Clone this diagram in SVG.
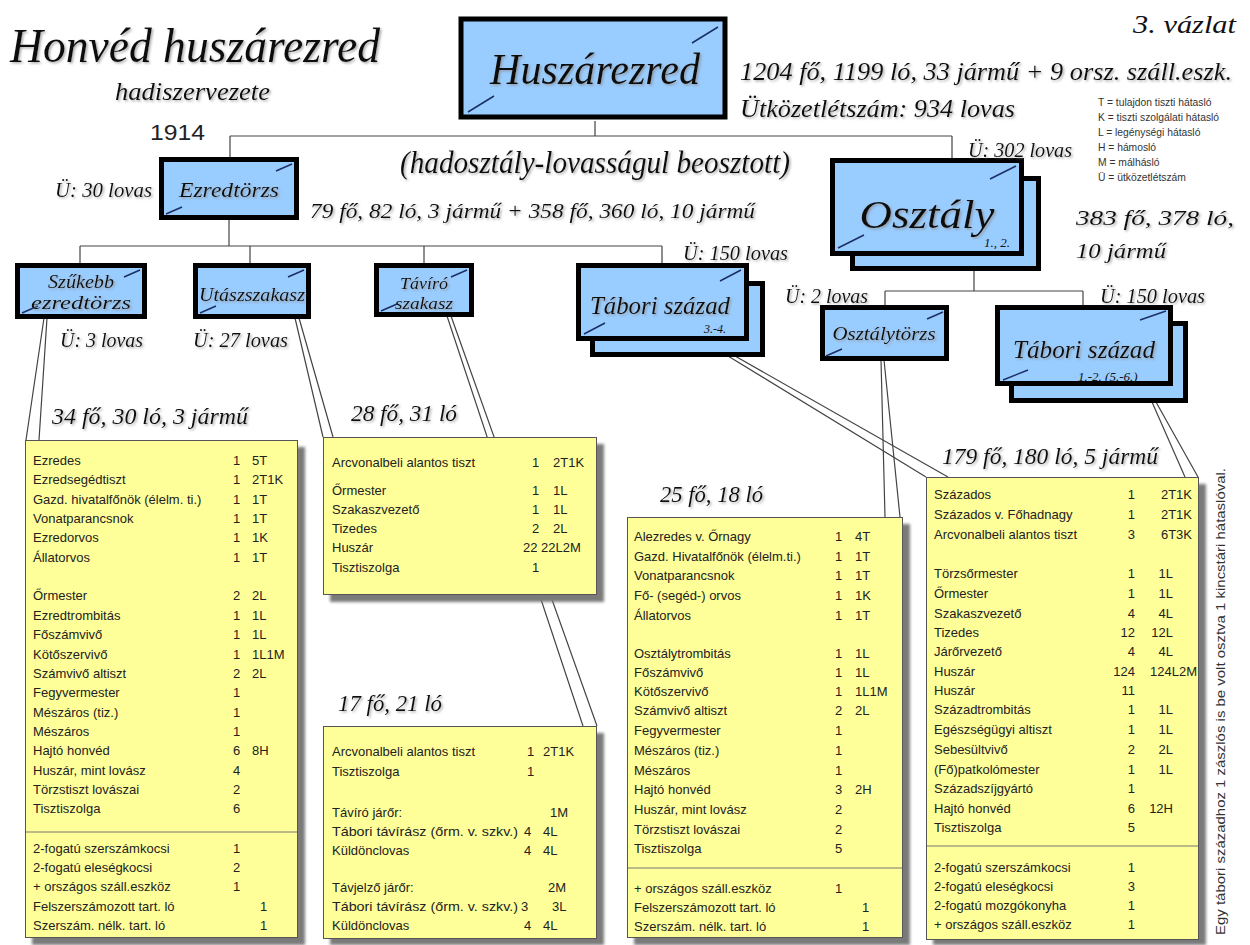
<svg xmlns="http://www.w3.org/2000/svg" width="1250" height="945" viewBox="0 0 1250 945">
<defs>
<filter id="ts" x="-5%" y="-20%" width="110%" height="140%"><feDropShadow dx="1.5" dy="1.5" stdDeviation="0.8" flood-color="#8a8a8a" flood-opacity="0.7"/></filter>
<filter id="bs" x="-5%" y="-5%" width="115%" height="115%"><feGaussianBlur stdDeviation="1.5"/></filter>
</defs>
<style>
.n{fill:#99CCFF;stroke:#000;stroke-width:5}
.gl{stroke:#1c2f63;stroke-width:1.5;fill:none}
.it{font-family:"Liberation Serif","DejaVu Serif",serif;font-style:italic;fill:#111}
.sh{filter:url(#ts)}
.yb{fill:#FFFF99;stroke:#555;stroke-width:1}
.ys{fill:#7a7a7a;filter:url(#bs)}
.t{font-family:"Liberation Sans",Arial,sans-serif;font-size:13px;fill:#222}
.c{stroke:#444;stroke-width:1.2;fill:none}
.sep{stroke:#777;stroke-width:1}
.lg{font-family:"Liberation Sans",Arial,sans-serif;font-size:10.3px;fill:#333}
</style>
<rect width="1250" height="945" fill="#fff"/>

<!-- Title texts -->
<g id="title">
<text class="it sh" x="10" y="62" font-size="48" textLength="370" lengthAdjust="spacingAndGlyphs">Honvéd huszárezred</text>
<text class="it sh" x="115" y="100" font-size="26" textLength="155" lengthAdjust="spacingAndGlyphs">hadiszervezete</text>
<text x="150" y="140" font-family="Liberation Sans,Arial,sans-serif" font-size="22" fill="#222" textLength="55" lengthAdjust="spacingAndGlyphs">1914</text>
<text class="it" x="1133" y="33" font-size="26" textLength="103" lengthAdjust="spacingAndGlyphs">3. vázlat</text>
<text class="it sh" x="740" y="80" font-size="26" textLength="492" lengthAdjust="spacingAndGlyphs">1204 fő, 1199 ló, 33 jármű + 9 orsz. száll.eszk.</text>
<text class="it sh" x="740" y="117" font-size="26" textLength="275" lengthAdjust="spacingAndGlyphs">Ütközetlétszám: 934 lovas</text>
<text class="it sh" x="400" y="173" font-size="32" textLength="390" lengthAdjust="spacingAndGlyphs">(hadosztály-lovasságul beosztott)</text>
</g>

<g id="legend">
<text class="lg" x="1098" y="106">T = tulajdon tiszti hátasló</text>
<text class="lg" x="1098" y="121">K = tiszti szolgálati hátasló</text>
<text class="lg" x="1098" y="136">L = legénységi hátasló</text>
<text class="lg" x="1098" y="151">H = hámosló</text>
<text class="lg" x="1098" y="166">M = málhásló</text>
<text class="lg" x="1098" y="181">Ü = ütközetlétszám</text>
</g>

<!-- Connectors -->
<g id="connectors">
<path class="c" d="M595,121V136M230,136H952M230,136V158M952,136V159"/>
<path class="c" d="M229,220V246M80,246H662M80,246V264M250,246V264M424,246V264M662,246V264"/>
<path class="c" d="M974,271V291M885,291H1083M885,291V306M1083,291V306"/>
<path class="c" d="M44,318L26,440M47,318L39,440"/>
<path class="c" d="M295,318L323,437M299,318L333,437"/>
<path class="c" d="M447,316L583,726M451,316L597,726"/>
<path class="c" d="M728,356L926,477M735,356L948,477"/>
<path class="c" d="M881,360L885,517M884,360L900,517"/>
<path class="c" d="M1152,402L1185,477M1156,402L1198,477"/>
</g>

<!-- Nodes -->
<g id="huszarezred">
<rect class="n" x="461" y="19" width="264" height="98" stroke-width="8"/>
<path class="gl" d="M692,43L718,27M468,112L494,96"/>
<text class="it sh" x="595" y="84" font-size="44" text-anchor="middle" textLength="210" lengthAdjust="spacingAndGlyphs">Huszárezred</text>
</g>

<g id="ezredtorzs">
<rect class="n" x="161.5" y="159.5" width="135" height="58"/>
<path class="gl" d="M276,171L292,164M166,214L182,207"/>
<text class="it sh" x="229" y="197" font-size="22" text-anchor="middle" textLength="100" lengthAdjust="spacingAndGlyphs">Ezredtörzs</text>
<text class="it sh" x="55" y="197" font-size="20" textLength="97" lengthAdjust="spacingAndGlyphs">Ü: 30 lovas</text>
<text class="it sh" x="310" y="218" font-size="22" textLength="445" lengthAdjust="spacingAndGlyphs">79 fő, 82 ló, 3 jármű + 358 fő, 360 ló, 10 jármű</text>
</g>

<g id="szukebb">
<rect class="n" x="17.5" y="265.5" width="127" height="51"/>
<path class="gl" d="M124,277L140,270M22,313L38,306"/>
<text class="it sh" x="81" y="288" font-size="18" text-anchor="middle" textLength="66" lengthAdjust="spacingAndGlyphs">Szűkebb</text>
<text class="it sh" x="81" y="309" font-size="18" text-anchor="middle" textLength="100" lengthAdjust="spacingAndGlyphs">ezredtörzs</text>
<text class="it sh" x="60" y="347" font-size="20" textLength="83" lengthAdjust="spacingAndGlyphs">Ü: 3 lovas</text>
</g>

<g id="utasz">
<rect class="n" x="195.5" y="265.5" width="113" height="51"/>
<path class="gl" d="M288,277L304,270M200,313L216,306"/>
<text class="it sh" x="252" y="301" font-size="18" text-anchor="middle" textLength="106" lengthAdjust="spacingAndGlyphs">Utászszakasz</text>
<text class="it sh" x="193" y="347" font-size="20" textLength="95" lengthAdjust="spacingAndGlyphs">Ü: 27 lovas</text>
</g>

<g id="taviro">
<rect class="n" x="376.5" y="265.5" width="95" height="49"/>
<path class="gl" d="M451,277L467,270M381,311L397,304"/>
<text class="it sh" x="424" y="289" font-size="17" text-anchor="middle" textLength="48" lengthAdjust="spacingAndGlyphs">Távíró</text>
<text class="it sh" x="424" y="309" font-size="17" text-anchor="middle" textLength="58" lengthAdjust="spacingAndGlyphs">szakasz</text>
</g>

<g id="tabori34">
<rect class="n" x="592.5" y="283.5" width="170" height="71"/>
<rect class="n" x="578.5" y="265.5" width="168" height="73"/>
<path class="gl" d="M720,281L741,270M584,334L605,323"/>
<text class="it sh" x="660" y="314" font-size="25" text-anchor="middle" textLength="140" lengthAdjust="spacingAndGlyphs">Tábori század</text>
<text class="it" x="704" y="333" font-size="12">3.-4.</text>
<text class="it sh" x="683" y="260" font-size="20" textLength="105" lengthAdjust="spacingAndGlyphs">Ü: 150 lovas</text>
</g>

<g id="osztaly">
<rect class="n" x="852.5" y="178.5" width="186" height="90"/>
<rect class="n" x="832.5" y="160.5" width="189" height="93"/>
<path class="gl" d="M990,179L1016,166M838,248L864,235"/>
<text class="it sh" x="927" y="228" font-size="40" text-anchor="middle" textLength="135" lengthAdjust="spacingAndGlyphs">Osztály</text>
<text class="it" x="984" y="247" font-size="13">1., 2.</text>
<text class="it sh" x="968" y="157" font-size="20" textLength="104" lengthAdjust="spacingAndGlyphs">Ü: 302 lovas</text>
<text class="it sh" x="1076" y="225" font-size="22" textLength="158" lengthAdjust="spacingAndGlyphs">383 fő, 378 ló,</text>
<text class="it sh" x="1076" y="258" font-size="22" textLength="90" lengthAdjust="spacingAndGlyphs">10 jármű</text>
</g>

<g id="osztalytorzs">
<rect class="n" x="822.5" y="307.5" width="124" height="51"/>
<path class="gl" d="M927,319L943,312M826,356L842,349"/>
<text class="it sh" x="884" y="340" font-size="19" text-anchor="middle" textLength="103" lengthAdjust="spacingAndGlyphs">Osztálytörzs</text>
<text class="it sh" x="785" y="303" font-size="20" textLength="83" lengthAdjust="spacingAndGlyphs">Ü: 2 lovas</text>
</g>

<g id="tabori12">
<rect class="n" x="1011.5" y="323.5" width="174" height="77"/>
<rect class="n" x="997.5" y="307.5" width="173" height="76"/>
<path class="gl" d="M1140,320L1166,311M1003,380L1028,370"/>
<text class="it sh" x="1084" y="358" font-size="25" text-anchor="middle" textLength="142" lengthAdjust="spacingAndGlyphs">Tábori század</text>
<text class="it" x="1078" y="381" font-size="13">1.-2. (5.-6.)</text>
<text class="it sh" x="1100" y="303" font-size="20" textLength="105" lengthAdjust="spacingAndGlyphs">Ü: 150 lovas</text>
</g>

<!-- Box 1 -->
<g id="box-szukebb">
<text class="it sh" x="52" y="424" font-size="24" textLength="196" lengthAdjust="spacingAndGlyphs">34 fő, 30 ló, 3 jármű</text>
<rect class="ys" x="32" y="447" width="273" height="498"/>
<rect class="yb" x="25.5" y="440.5" width="272" height="497"/>
<line class="sep" x1="26" y1="832" x2="297" y2="832"/>
<text class="t" y="465"><tspan x="33">Ezredes</tspan><tspan x="233">1</tspan><tspan x="252">5T</tspan></text>
<text class="t" y="484"><tspan x="33">Ezredsegédtiszt</tspan><tspan x="233">1</tspan><tspan x="252">2T1K</tspan></text>
<text class="t" y="504"><tspan x="33">Gazd. hivatalfőnök (élelm. ti.)</tspan><tspan x="233">1</tspan><tspan x="252">1T</tspan></text>
<text class="t" y="523"><tspan x="33">Vonatparancsnok</tspan><tspan x="233">1</tspan><tspan x="252">1T</tspan></text>
<text class="t" y="542"><tspan x="33">Ezredorvos</tspan><tspan x="233">1</tspan><tspan x="252">1K</tspan></text>
<text class="t" y="562"><tspan x="33">Állatorvos</tspan><tspan x="233">1</tspan><tspan x="252">1T</tspan></text>
<text class="t" y="600"><tspan x="33">Őrmester</tspan><tspan x="233">2</tspan><tspan x="252">2L</tspan></text>
<text class="t" y="620"><tspan x="33">Ezredtrombitás</tspan><tspan x="233">1</tspan><tspan x="252">1L</tspan></text>
<text class="t" y="639"><tspan x="33">Főszámvivő</tspan><tspan x="233">1</tspan><tspan x="252">1L</tspan></text>
<text class="t" y="659"><tspan x="33">Kötőszervivő</tspan><tspan x="233">1</tspan><tspan x="252">1L1M</tspan></text>
<text class="t" y="678"><tspan x="33">Számvivő altiszt</tspan><tspan x="233">2</tspan><tspan x="252">2L</tspan></text>
<text class="t" y="697"><tspan x="33">Fegyvermester</tspan><tspan x="233">1</tspan></text>
<text class="t" y="717"><tspan x="33">Mészáros (tiz.)</tspan><tspan x="233">1</tspan></text>
<text class="t" y="736"><tspan x="33">Mészáros</tspan><tspan x="233">1</tspan></text>
<text class="t" y="755"><tspan x="33">Hajtó honvéd</tspan><tspan x="233">6</tspan><tspan x="252">8H</tspan></text>
<text class="t" y="775"><tspan x="33">Huszár, mint lovász</tspan><tspan x="233">4</tspan></text>
<text class="t" y="794"><tspan x="33">Törzstiszt lovászai</tspan><tspan x="233">2</tspan></text>
<text class="t" y="813"><tspan x="33">Tisztiszolga</tspan><tspan x="233">6</tspan></text>
<text class="t" y="853"><tspan x="33">2-fogatú szerszámkocsi</tspan><tspan x="233">1</tspan></text>
<text class="t" y="872"><tspan x="33">2-fogatú eleségkocsi</tspan><tspan x="233">2</tspan></text>
<text class="t" y="891"><tspan x="33">+ országos száll.eszköz</tspan><tspan x="233">1</tspan></text>
<text class="t" y="911"><tspan x="33">Felszerszámozott tart. ló</tspan><tspan x="260">1</tspan></text>
<text class="t" y="930"><tspan x="33">Szerszám. nélk. tart. ló</tspan><tspan x="260">1</tspan></text>
</g>

<!-- Box 2 -->
<g id="box-utasz">
<text class="it sh" x="351" y="421" font-size="24" textLength="106" lengthAdjust="spacingAndGlyphs">28 fő, 31 ló</text>
<rect class="ys" x="330" y="444" width="274" height="158"/>
<rect class="yb" x="323.5" y="437.5" width="273" height="157"/>
<text class="t" y="467"><tspan x="332">Arcvonalbeli alantos tiszt</tspan><tspan x="532">1</tspan><tspan x="553">2T1K</tspan></text>
<text class="t" y="495"><tspan x="332">Őrmester</tspan><tspan x="532">1</tspan><tspan x="553">1L</tspan></text>
<text class="t" y="514"><tspan x="332">Szakaszvezető</tspan><tspan x="532">1</tspan><tspan x="553">1L</tspan></text>
<text class="t" y="533"><tspan x="332">Tizedes</tspan><tspan x="532">2</tspan><tspan x="553">2L</tspan></text>
<text class="t" y="552"><tspan x="332">Huszár</tspan><tspan x="523">22</tspan><tspan x="541">22L2M</tspan></text>
<text class="t" y="572"><tspan x="332">Tisztiszolga</tspan><tspan x="532">1</tspan></text>
</g>

<!-- Box 3 -->
<g id="box-taviro">
<text class="it sh" x="338" y="711" font-size="24" textLength="104" lengthAdjust="spacingAndGlyphs">17 fő, 21 ló</text>
<rect class="ys" x="330" y="733" width="274" height="212"/>
<rect class="yb" x="323.5" y="726.5" width="273" height="212"/>
<text class="t" y="756"><tspan x="332">Arcvonalbeli alantos tiszt</tspan><tspan x="527">1</tspan><tspan x="543">2T1K</tspan></text>
<text class="t" y="776"><tspan x="332">Tisztiszolga</tspan><tspan x="527">1</tspan></text>
<text class="t" y="817"><tspan x="332">Távíró járőr:</tspan><tspan x="550">1M</tspan></text>
<text class="t" y="836"><tspan x="332" textLength="186" lengthAdjust="spacingAndGlyphs">Tábori távírász (őrm. v. szkv.)</tspan><tspan x="524">4</tspan><tspan x="543">4L</tspan></text>
<text class="t" y="855"><tspan x="332">Küldönclovas</tspan><tspan x="524">4</tspan><tspan x="543">4L</tspan></text>
<text class="t" y="892"><tspan x="332">Távjelző járőr:</tspan><tspan x="548">2M</tspan></text>
<text class="t" y="911"><tspan x="332" textLength="186" lengthAdjust="spacingAndGlyphs">Tábori távírász (őrm. v. szkv.)</tspan><tspan x="521">3</tspan><tspan x="552">3L</tspan></text>
<text class="t" y="930"><tspan x="332">Küldönclovas</tspan><tspan x="524">4</tspan><tspan x="543">4L</tspan></text>
</g>

<!-- Box 4 -->
<g id="box-osztalytorzs">
<text class="it sh" x="660" y="502" font-size="24" textLength="103" lengthAdjust="spacingAndGlyphs">25 fő, 18 ló</text>
<rect class="ys" x="634" y="524" width="276" height="421"/>
<rect class="yb" x="627.5" y="517.5" width="275" height="420"/>
<line class="sep" x1="628" y1="868" x2="902" y2="868"/>
<text class="t" y="541"><tspan x="634">Alezredes v. Őrnagy</tspan><tspan x="835">1</tspan><tspan x="855">4T</tspan></text>
<text class="t" y="561"><tspan x="634">Gazd. Hivatalfőnök (élelm.ti.)</tspan><tspan x="835">1</tspan><tspan x="855">1T</tspan></text>
<text class="t" y="580"><tspan x="634">Vonatparancsnok</tspan><tspan x="835">1</tspan><tspan x="855">1T</tspan></text>
<text class="t" y="600"><tspan x="634">Fő- (segéd-) orvos</tspan><tspan x="835">1</tspan><tspan x="855">1K</tspan></text>
<text class="t" y="620"><tspan x="634">Állatorvos</tspan><tspan x="835">1</tspan><tspan x="855">1T</tspan></text>
<text class="t" y="658"><tspan x="634">Osztálytrombitás</tspan><tspan x="835">1</tspan><tspan x="855">1L</tspan></text>
<text class="t" y="677"><tspan x="634">Főszámvivő</tspan><tspan x="835">1</tspan><tspan x="855">1L</tspan></text>
<text class="t" y="696"><tspan x="634">Kötőszervivő</tspan><tspan x="835">1</tspan><tspan x="855">1L1M</tspan></text>
<text class="t" y="715"><tspan x="634">Számvivő altiszt</tspan><tspan x="835">2</tspan><tspan x="855">2L</tspan></text>
<text class="t" y="735"><tspan x="634">Fegyvermester</tspan><tspan x="835">1</tspan></text>
<text class="t" y="755"><tspan x="634">Mészáros (tiz.)</tspan><tspan x="835">1</tspan></text>
<text class="t" y="775"><tspan x="634">Mészáros</tspan><tspan x="835">1</tspan></text>
<text class="t" y="794"><tspan x="634">Hajtó honvéd</tspan><tspan x="835">3</tspan><tspan x="855">2H</tspan></text>
<text class="t" y="814"><tspan x="634">Huszár, mint lovász</tspan><tspan x="835">2</tspan></text>
<text class="t" y="834"><tspan x="634">Törzstiszt lovászai</tspan><tspan x="835">2</tspan></text>
<text class="t" y="853"><tspan x="634">Tisztiszolga</tspan><tspan x="835">5</tspan></text>
<text class="t" y="893"><tspan x="634">+ országos száll.eszköz</tspan><tspan x="835">1</tspan></text>
<text class="t" y="912"><tspan x="634">Felszerszámozott tart. ló</tspan><tspan x="862">1</tspan></text>
<text class="t" y="931"><tspan x="634">Szerszám. nélk. tart. ló</tspan><tspan x="862">1</tspan></text>
</g>

<!-- Box 5 -->
<g id="box-tabori">
<text class="it sh" x="942" y="464" font-size="24" textLength="216" lengthAdjust="spacingAndGlyphs">179 fő, 180 ló, 5 jármű</text>
<rect class="ys" x="933" y="484" width="273" height="461"/>
<rect class="yb" x="926.5" y="477.5" width="272" height="462"/>
<line class="sep" x1="927" y1="846" x2="1198" y2="846"/>
<g class="t">
<text y="499"><tspan x="934">Százados</tspan></text><text x="1135" y="499" text-anchor="end">1</text><text x="1192" y="499" text-anchor="end">2T1K</text>
<text y="519"><tspan x="934">Százados v. Főhadnagy</tspan></text><text x="1135" y="519" text-anchor="end">1</text><text x="1192" y="519" text-anchor="end">2T1K</text>
<text y="539"><tspan x="934">Arcvonalbeli alantos tiszt</tspan></text><text x="1135" y="539" text-anchor="end">3</text><text x="1192" y="539" text-anchor="end">6T3K</text>
<text y="578"><tspan x="934">Törzsőrmester</tspan></text><text x="1135" y="578" text-anchor="end">1</text><text x="1173" y="578" text-anchor="end">1L</text>
<text y="598"><tspan x="934">Őrmester</tspan></text><text x="1135" y="598" text-anchor="end">1</text><text x="1173" y="598" text-anchor="end">1L</text>
<text y="618"><tspan x="934">Szakaszvezető</tspan></text><text x="1135" y="618" text-anchor="end">4</text><text x="1173" y="618" text-anchor="end">4L</text>
<text y="637"><tspan x="934">Tizedes</tspan></text><text x="1135" y="637" text-anchor="end">12</text><text x="1173" y="637" text-anchor="end">12L</text>
<text y="656"><tspan x="934">Járőrvezető</tspan></text><text x="1135" y="656" text-anchor="end">4</text><text x="1173" y="656" text-anchor="end">4L</text>
<text y="676"><tspan x="934">Huszár</tspan></text><text x="1135" y="676" text-anchor="end">124</text><text x="1197" y="676" text-anchor="end">124L2M</text>
<text y="695"><tspan x="934">Huszár</tspan></text><text x="1135" y="695" text-anchor="end">11</text>
<text y="714"><tspan x="934">Századtrombitás</tspan></text><text x="1135" y="714" text-anchor="end">1</text><text x="1173" y="714" text-anchor="end">1L</text>
<text y="734"><tspan x="934">Egészségügyi altiszt</tspan></text><text x="1135" y="734" text-anchor="end">1</text><text x="1173" y="734" text-anchor="end">1L</text>
<text y="754"><tspan x="934">Sebesültvivő</tspan></text><text x="1135" y="754" text-anchor="end">2</text><text x="1173" y="754" text-anchor="end">2L</text>
<text y="774"><tspan x="934">(Fő)patkolómester</tspan></text><text x="1135" y="774" text-anchor="end">1</text><text x="1173" y="774" text-anchor="end">1L</text>
<text y="793"><tspan x="934">Századszíjgyártó</tspan></text><text x="1135" y="793" text-anchor="end">1</text>
<text y="813"><tspan x="934">Hajtó honvéd</tspan></text><text x="1135" y="813" text-anchor="end">6</text><text x="1173" y="813" text-anchor="end">12H</text>
<text y="832"><tspan x="934">Tisztiszolga</tspan></text><text x="1135" y="832" text-anchor="end">5</text>
<text y="872"><tspan x="934">2-fogatú szerszámkocsi</tspan></text><text x="1135" y="872" text-anchor="end">1</text>
<text y="891"><tspan x="934">2-fogatú eleségkocsi</tspan></text><text x="1135" y="891" text-anchor="end">3</text>
<text y="910"><tspan x="934">2-fogatú mozgókonyha</tspan></text><text x="1135" y="910" text-anchor="end">1</text>
<text y="929"><tspan x="934">+ országos száll.eszköz</tspan></text><text x="1135" y="929" text-anchor="end">1</text>
</g>
</g>

<text transform="translate(1225,935) rotate(-90)" font-family="Liberation Sans,Arial,sans-serif" font-size="13.5" fill="#333" textLength="467" lengthAdjust="spacingAndGlyphs">Egy tábori századhoz 1 zászlós is be volt osztva 1 kincstári hátaslóval.</text>
</svg>
